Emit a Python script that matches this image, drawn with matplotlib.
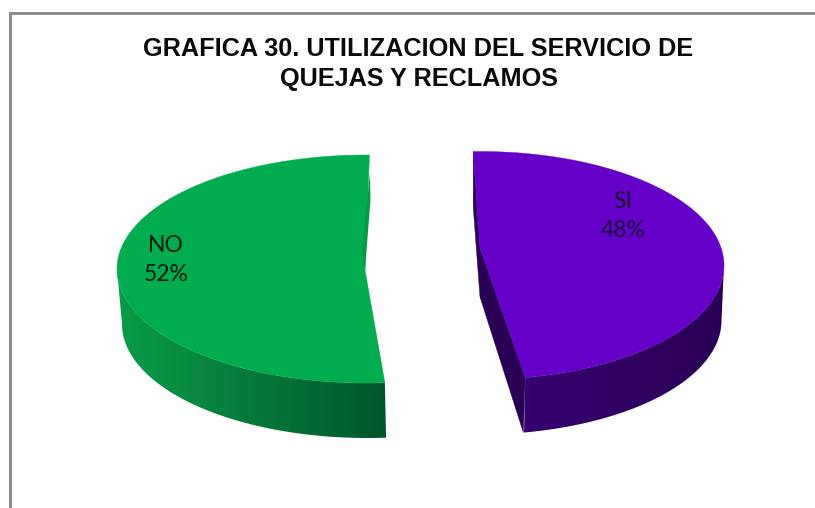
import numpy as np
import matplotlib
matplotlib.use("Agg")
import matplotlib.pyplot as plt
from matplotlib.colors import LinearSegmentedColormap
from matplotlib.patches import Polygon

title_lines = ["GRAFICA 30. UTILIZACION DEL SERVICIO DE", "QUEJAS Y RECLAMOS"]
labels = ["NO", "SI"]
values = [52, 48]
top_colors = ["#00ac4e", "#6400c8"]
side_left = ["#0a9c49", "#360070"]
side_right = ["#00562a", "#2a0055"]
inner_colors = ["#059a46", "#2a0055"]

SQUEEZE = 0.989   # the perspective makes the slices look a bit narrower
DEPTH = 55


def ring(theta, cx, cy, a, b):
    t = np.radians(theta)
    return np.column_stack([cx + a * np.sin(t), cy - b * np.cos(t)])


def wall(ax, thetas, cx, cy, a, b, cx2, a2, c0, c1):
    # outer wall of a slice, gradient runs left to right and is clipped to the outline
    top = ring(thetas, cx, cy, a, b)
    bot = ring(thetas, cx2, cy + DEPTH, a2, b)
    outline = np.vstack([top, bot[::-1]])
    cmap = LinearSegmentedColormap.from_list("side", [c0, c1])
    grad = np.linspace(0, 1, 256).reshape(1, -1)
    extent = [outline[:, 0].min(), outline[:, 0].max(), outline[:, 1].max(), outline[:, 1].min()]
    im = ax.imshow(grad, cmap=cmap, extent=extent, aspect="auto", zorder=2)
    patch = Polygon(outline, transform=ax.transData, fc="none", ec="none")
    ax.add_patch(patch)
    im.set_clip_path(patch)


fig = plt.figure(figsize=(8.15, 5.08), dpi=100)
ax = fig.add_axes([0, 0, 1, 1])

# chart frame, cut off by the screenshot on the right and bottom
ax.plot([9.5, 9.5, 815], [508, 13, 13], color="#868686", lw=2, solid_joinstyle="miter")

ax.text(418.5, 49, title_lines[0], family="Liberation Sans", weight="bold", fontsize=18.2,
        ha="center", va="center", color="#0a0a0a")
ax.text(418.5, 79, title_lines[1], family="Liberation Sans", weight="bold", fontsize=18.2,
        ha="center", va="center", color="#0a0a0a")

# green slice, runs counter clockwise from the top
cx, cy, a, b = 366, 269, 249, 114
apex = np.array([365, 270])
sweep = 360 * values[0] / sum(values) * SQUEEZE
start = 0.8
end = start - sweep
th = np.linspace(start, end, 200)
wall(ax, np.linspace(-90, end, 90), cx, cy, a, b, 367.5, 245.5, side_left[0], side_right[0])
face = np.vstack([ring(th, cx, cy, a, b), apex])
ax.fill(face[:, 0], face[:, 1], color=top_colors[0], lw=0.3, zorder=3)
p0 = ring(np.array([start]), cx, cy, a, b)[0]
sliver = np.array([p0 + [0.5, 18], p0 + [1, 45], apex, apex + [-3, -18]])
ax.fill(sliver[:, 0], sliver[:, 1], color=inner_colors[0], lw=0, zorder=4)

# purple slice, runs clockwise from the top
cx, cy, a, b = 480, 265.5, 244, 114
apex = np.array([480, 248])
sweep = 360 * values[1] / sum(values) * SQUEEZE
start = -1.6
end = start + sweep
th = np.linspace(start, end, 200)
p0, p1 = ring(np.array([start, end]), cx, cy, a, b)
inner = np.array([p0, apex, p1, p1 + [-2, DEPTH], apex + [0, 49], p0 + [0, DEPTH]])
ax.fill(inner[:, 0], inner[:, 1], color=inner_colors[1], lw=0.3, zorder=2)
wall(ax, np.linspace(end, 90, 90), cx, cy, a, b, 479, 242.5, side_left[1], side_right[1])
face = np.vstack([ring(th, cx, cy, a, b), apex])
ax.fill(face[:, 0], face[:, 1], color=top_colors[1], lw=0.3, zorder=3)

ax.text(166, 260, f"{labels[0]}\n{values[0]}%", family="Lato", fontsize=16.5, ha="center", va="center",
        linespacing=1.5, color="#0a1a10", zorder=5)
ax.text(623, 216, f"{labels[1]}\n{values[1]}%", family="Lato", fontsize=16.5, ha="center", va="center",
        linespacing=1.5, color="#1a0038", zorder=5)

ax.set_xlim(0, 815)
ax.set_ylim(508, 0)
ax.axis("off")

fig.savefig("out.png", dpi=100)
